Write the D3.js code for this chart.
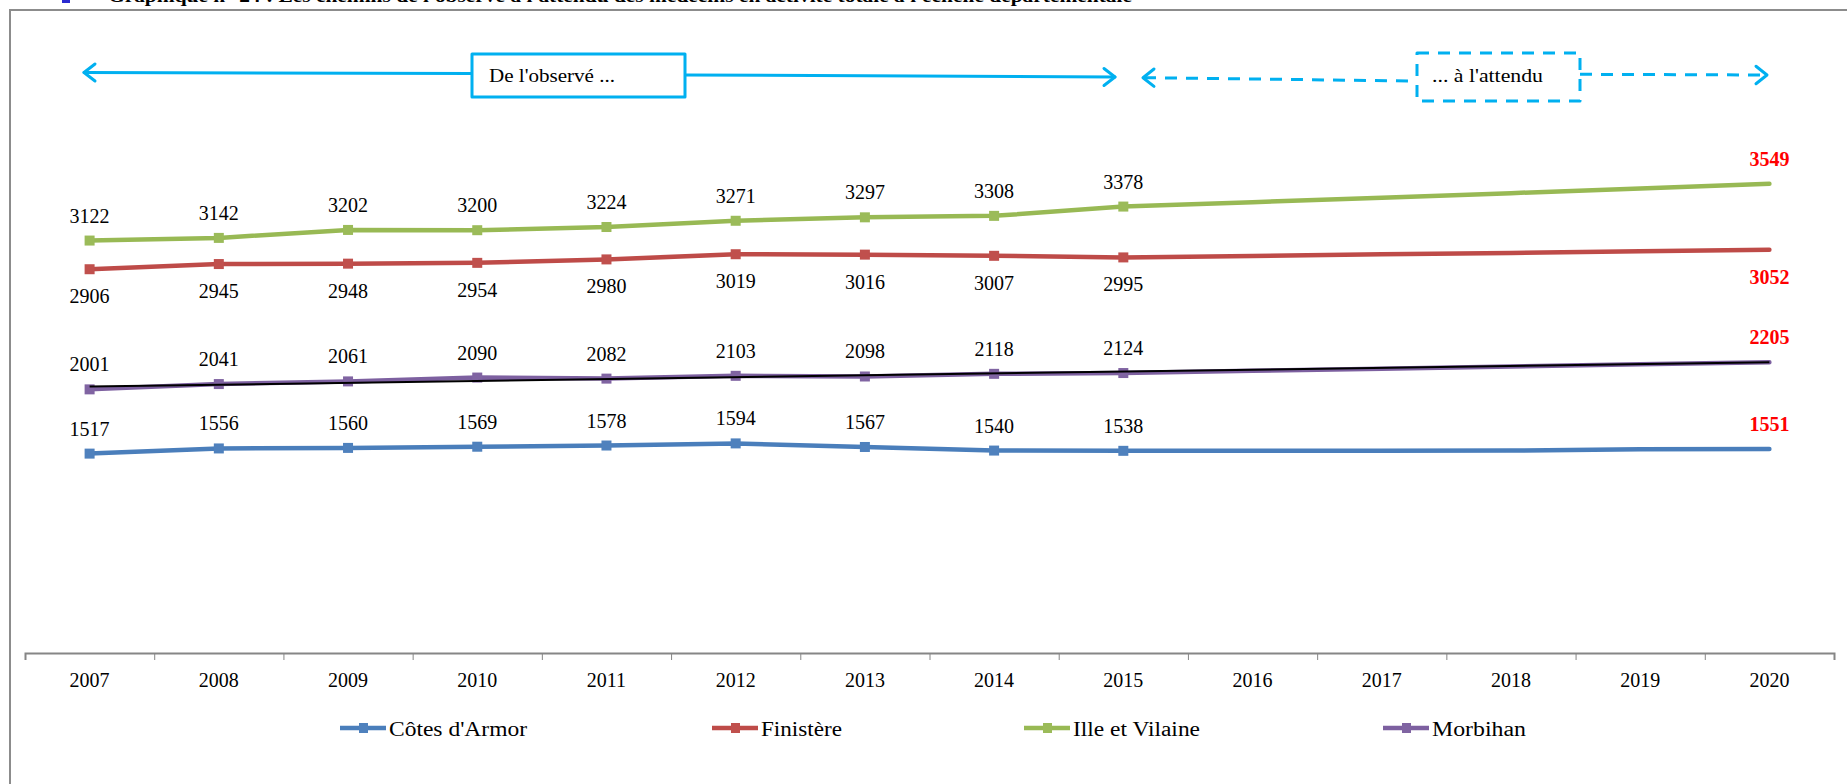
<!DOCTYPE html>
<html>
<head>
<meta charset="utf-8">
<script src="https://cdn.jsdelivr.net/npm/d3@7"></script>
<style>
  body { margin: 0; background: #fff; overflow: hidden; }
  svg { display: block; font-family: "Liberation Serif", "Times New Roman", serif; }
</style>
</head>
<body>
<script>
// years on the x axis, observed up to 2015 then projected to 2020
let years = ["2007", "2008", "2009", "2010", "2011", "2012", "2013",
             "2014", "2015", "2016", "2017", "2018", "2019", "2020"];
let observedCount = 9;

let cotes = [1517, 1556, 1560, 1569, 1578, 1594, 1567, 1540, 1538, 1539, 1539, 1540, 1550, 1551];
let finistere = [2906, 2945, 2948, 2954, 2980, 3019, 3016, 3007, 2995, 3006, 3018, 3029, 3041, 3052];
let ille = [3122, 3142, 3202, 3200, 3224, 3271, 3297, 3308, 3378, 3411, 3445, 3479, 3515, 3549];
let morbihan = [2001, 2041, 2061, 2090, 2082, 2103, 2098, 2118, 2124, 2141, 2157, 2173, 2190, 2205];

// black linear trend drawn over Morbihan
let trendYears = ["2007", "2020"];
let trendValues = [2022, 2206];

let seriesNames = ["Côtes d'Armor", "Finistère", "Ille et Vilaine", "Morbihan"];

let width = 1847;
let height = 784;

let series = [
  { name: seriesNames[0], values: cotes, line: "#4A7EBB", mark: "#4F81BD", below: false },
  { name: seriesNames[1], values: finistere, line: "#BE4B48", mark: "#C0504D", below: true },
  { name: seriesNames[2], values: ille, line: "#98B954", mark: "#9BBB59", below: false },
  { name: seriesNames[3], values: morbihan, line: "#7D60A0", mark: "#8064A2", below: false }
];

let x = d3.scaleBand()
          .domain(years)
          .range([25, 1834]);

let y = d3.scaleLinear()
          .domain([0, 4000])
          .range([655, 124]);

let cx = d => x(d) + x.bandwidth() / 2;

let svg = d3.select("body")
    .append("svg")
    .attr("width", width)
    .attr("height", height);

// title, mostly above the frame (cut off like the source)
svg.append("rect")
    .attr("x", 62).attr("y", 0)
    .attr("width", 8).attr("height", 3)
    .attr("fill", "#2a2ad0");
svg.append("text")
    .attr("x", 108).attr("y", 2)
    .attr("font-size", 18)
    .attr("font-weight", "bold")
    .attr("textLength", 1024)
    .attr("lengthAdjust", "spacingAndGlyphs")
    .text("Graphique n° 24 : Les chemins de l'observé à l'attendu des médecins en activité totale à l'échelle départementale");

// frame
svg.append("path")
    .attr("d", `M10,${height} L10,10 L${width},10`)
    .attr("fill", "none")
    .attr("stroke", "#8c8c8c")
    .attr("stroke-width", 2);

// top annotation arrows
let blue = "#00B0F0";
let ann = svg.append("g")
    .attr("fill", "none")
    .attr("stroke", blue)
    .attr("stroke-width", 3)
    .attr("stroke-linecap", "round")
    .attr("stroke-linejoin", "round");

ann.append("line").attr("x1", 84).attr("y1", 72.5).attr("x2", 472).attr("y2", 73.5);
ann.append("line").attr("x1", 685).attr("y1", 75).attr("x2", 1115).attr("y2", 77);
ann.append("path").attr("d", "M95,64 L84,72.5 L95,81");
ann.append("path").attr("d", "M1104,68.5 L1115,77 L1104,85.5");
ann.append("rect")
    .attr("x", 472).attr("y", 54)
    .attr("width", 213).attr("height", 43)
    .attr("fill", "#fff");

let dashed = ann.append("g")
    .attr("stroke-dasharray", "12 9")
    .attr("stroke-linecap", "butt");
dashed.append("line").attr("x1", 1144).attr("y1", 77.7).attr("x2", 1417).attr("y2", 81);
dashed.append("line").attr("x1", 1580).attr("y1", 74.3).attr("x2", 1767).attr("y2", 75);
dashed.append("rect")
    .attr("x", 1417).attr("y", 53)
    .attr("width", 163).attr("height", 48)
    .attr("fill", "#fff");
ann.append("path").attr("d", "M1154,69 L1143,77.7 L1154,86.4");
ann.append("path").attr("d", "M1756,66.3 L1767,75 L1756,83.7");

svg.append("text")
    .attr("x", 489).attr("y", 82)
    .attr("font-size", 18)
    .attr("textLength", 126)
    .attr("lengthAdjust", "spacingAndGlyphs")
    .text("De l'observé ...");
svg.append("text")
    .attr("x", 1432).attr("y", 82)
    .attr("font-size", 18)
    .attr("textLength", 111)
    .attr("lengthAdjust", "spacingAndGlyphs")
    .text("... à l'attendu");

// x axis: boundary ticks and centred labels
let edges = d3.scaleLinear().domain([0, years.length]).range(x.range());
let axisG = svg.append("g").attr("transform", "translate(0, 653)");
axisG.call(d3.axisBottom(edges).ticks(years.length).tickSize(7).tickFormat(""))
    .call(g => g.select(".domain").attr("stroke", "#868686").attr("stroke-width", 2))
    .call(g => g.selectAll(".tick line").attr("stroke", "#868686"));

svg.append("g")
    .attr("transform", "translate(0, 653)")
    .call(d3.axisBottom(x).tickSize(0))
    .call(g => g.select(".domain").remove())
    .call(g => g.selectAll("text")
        .attr("y", 34).attr("dy", null)
        .attr("font-size", 20)
        .attr("font-family", "Liberation Serif, serif")
        .attr("fill", "#000"));

// lines
let line = d3.line()
    .x((d, i) => cx(years[i]))
    .y(d => y(d));

let plot = svg.append("g");

series.forEach(s => {
  plot.append("path")
      .datum(s.values)
      .attr("d", line)
      .attr("fill", "none")
      .attr("stroke", s.line)
      .attr("stroke-width", 4.5)
      .attr("stroke-linejoin", "round")
      .attr("stroke-linecap", "round");
});

// markers on observed years
series.forEach(s => {
  plot.selectAll(null)
      .data(s.values.slice(0, observedCount))
      .enter()
        .append("rect")
        .attr("x", (d, i) => cx(years[i]) - 5)
        .attr("y", d => y(d) - 5)
        .attr("width", 10)
        .attr("height", 10)
        .attr("fill", s.mark);
});

// trend line
plot.append("path")
    .datum(trendValues)
    .attr("d", d3.line().x((d, i) => cx(trendYears[i])).y(d => y(d)))
    .attr("fill", "none")
    .attr("stroke", "#000")
    .attr("stroke-width", 2);

// data labels
series.forEach(s => {
  let labelled = s.values
      .map((v, i) => ({ v: v, i: i }))
      .filter(d => d.i < observedCount || d.i === years.length - 1);
  plot.selectAll(null)
      .data(labelled)
      .enter()
        .append("text")
        .attr("x", d => cx(years[d.i]))
        .attr("y", d => s.below ? y(d.v) + 34 : y(d.v) - 18)
        .attr("text-anchor", "middle")
        .attr("font-size", 20)
        .attr("font-weight", d => d.i === years.length - 1 ? "bold" : "normal")
        .attr("fill", d => d.i === years.length - 1 ? "#FF0000" : "#000")
        .text(d => d.v);
});

// legend
let legendX = [340, 712, 1024, 1383];
let legendW = [138, 81, 127, 94];
let legend = svg.append("g").attr("transform", "translate(0, 728)");
series.forEach((s, i) => {
  let g = legend.append("g").attr("transform", `translate(${legendX[i]}, 0)`);
  g.append("line")
      .attr("x1", 0).attr("x2", 46)
      .attr("stroke", s.line)
      .attr("stroke-width", 4.5);
  g.append("rect")
      .attr("x", 19).attr("y", -5)
      .attr("width", 9).attr("height", 10)
      .attr("fill", s.mark);
  g.append("text")
      .attr("x", 49).attr("y", 8)
      .attr("font-size", 20)
      .attr("textLength", legendW[i])
      .attr("lengthAdjust", "spacingAndGlyphs")
      .text(s.name);
});
</script>
</body>
</html>
